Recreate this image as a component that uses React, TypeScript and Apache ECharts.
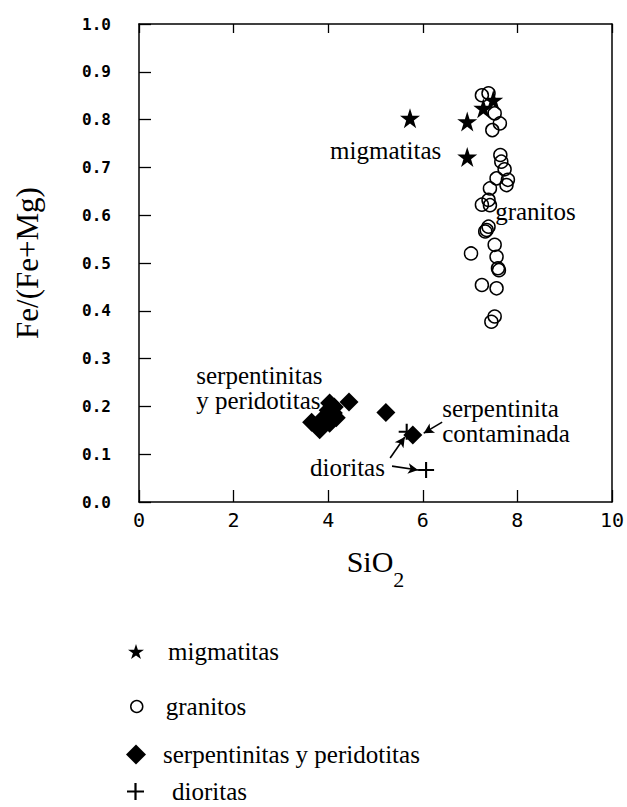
import React, { useEffect, useRef } from 'react';
import * as echarts from 'echarts';

// ---- data ----
const xRange = [0, 10];
const xStep = 2;
const yRange = [0, 1];
const yStep = 0.1;

const seriesNames = ['migmatitas', 'granitos', 'serpentinitas y peridotitas', 'dioritas'];

const migmatitas: number[][] = [
  [5.73, 0.803], [6.94, 0.796], [6.94, 0.722], [7.28, 0.824], [7.49, 0.841],
];

const granitos: number[][] = [
  [7.25, 0.851], [7.39, 0.855], [7.52, 0.813], [7.63, 0.792], [7.47, 0.778],
  [7.64, 0.726], [7.66, 0.712], [7.73, 0.696], [7.80, 0.674], [7.77, 0.663],
  [7.56, 0.677], [7.42, 0.656], [7.39, 0.632], [7.25, 0.622], [7.42, 0.621],
  [7.39, 0.576], [7.35, 0.569], [7.32, 0.566], [7.02, 0.520], [7.52, 0.538],
  [7.56, 0.513], [7.59, 0.489], [7.61, 0.485], [7.25, 0.454], [7.56, 0.447],
  [7.52, 0.388], [7.45, 0.377],
];

const serpentinitas: number[][] = [
  [3.65, 0.167], [3.82, 0.151], [4.03, 0.165], [4.11, 0.186], [4.17, 0.176],
  [4.00, 0.192], [3.92, 0.178], [4.13, 0.199], [4.03, 0.207], [4.44, 0.209],
  [5.22, 0.187], [5.79, 0.140],
];

const dioritas: number[][] = [
  [5.66, 0.147], [6.07, 0.067],
];

// annotation texts: [x, y, text, align]
const annotations: [number, number, string, string][] = [
  [6.39, 0.736, 'migmatitas', 'right'],
  [7.53, 0.607, 'granitos', 'left'],
  [1.21, 0.2395, 'serpentinitas\ny peridotitas', 'left'],
  [6.41, 0.170, 'serpentinita\ncontaminada', 'left'],
  [5.20, 0.073, 'dioritas', 'right'],
];

// arrows: [x1, y1, x2, y2]
const arrows: number[][] = [
  [5.31, 0.092, 5.62, 0.136],
  [5.35, 0.075, 5.90, 0.067],
  [6.41, 0.167, 6.02, 0.144],
];

// ---- styling ----
const SERIF = '"Liberation Serif", "Times New Roman", serif';
const MONO = '"DejaVu Sans Mono", monospace';
const STAR = 'path://M50,2 L61.2,36.2 L97.6,36.2 L68.2,57.3 L79.4,91.5 L50,70.3 L20.6,91.5 L31.8,57.3 L2.4,36.2 L38.8,36.2 Z';
const PLUS = 'path://M8.7,0 H11.3 V8.7 H20 V11.3 H11.3 V20 H8.7 V11.3 H0 V8.7 H8.7 Z';

export default function App() {
  const ref = useRef<HTMLDivElement>(null);

  useEffect(() => {
    if (!ref.current) return;
    const chart = echarts.init(ref.current, null, { renderer: 'svg' });

    const axisLine = { show: true, onZero: false, lineStyle: { color: '#000', width: 1.5 } };

    const legendBase = (name: string, top: number, left: number, size: number, pad: number, itemStyle: any) => ({
      data: [name],
      orient: 'vertical',
      left,
      top,
      padding: 0,
      itemWidth: size,
      itemHeight: size,
      selectedMode: false,
      itemStyle,
      textStyle: { fontFamily: SERIF, fontSize: 25, color: '#000', padding: [0, 0, 0, pad] },
    });

    const option: any = {
      animation: false,
      backgroundColor: '#fff',
      grid: { left: 139, top: 24, right: 6, bottom: 305, containLabel: false },
      xAxis: [
        {
          type: 'value',
          position: 'bottom',
          min: xRange[0],
          max: xRange[1],
          interval: xStep,
          axisLine,
          axisTick: { show: true, inside: true, length: 12, lineStyle: { color: '#000', width: 1.3 } },
          axisLabel: { fontFamily: MONO, fontSize: 20, color: '#000', margin: 8 },
          splitLine: { show: false },
          name: '{a|SiO}{b|2}',
          nameLocation: 'middle',
          nameGap: 44,
          nameTextStyle: {
            rich: {
              a: { fontFamily: SERIF, fontSize: 30, color: '#000', lineHeight: 30, verticalAlign: 'top' },
              b: { fontFamily: SERIF, fontSize: 22, color: '#000', lineHeight: 44, verticalAlign: 'bottom' },
            },
          },
        },
        {
          type: 'value',
          position: 'top',
          min: xRange[0],
          max: xRange[1],
          interval: xStep,
          axisLine,
          axisTick: { show: true, inside: true, length: 9, lineStyle: { color: '#000', width: 1.3 } },
          axisLabel: { show: false },
          splitLine: { show: false },
        },
      ],
      yAxis: [
        {
          type: 'value',
          position: 'left',
          min: yRange[0],
          max: yRange[1],
          interval: yStep,
          axisLine,
          axisTick: { show: true, inside: true, length: 12, lineStyle: { color: '#000', width: 1.3 } },
          axisLabel: {
            fontFamily: MONO,
            fontSize: 16,
            fontWeight: 'bold',
            color: '#000',
            margin: 28,
            formatter: (v: number) => v.toFixed(1),
          },
          splitLine: { show: false },
          name: 'Fe/(Fe+Mg)',
          nameLocation: 'middle',
          nameRotate: 90,
          nameGap: 96,
          nameTextStyle: { fontFamily: SERIF, fontSize: 31, color: '#000' },
        },
        {
          type: 'value',
          position: 'right',
          min: yRange[0],
          max: yRange[1],
          interval: yStep,
          axisLine,
          axisTick: { show: false },
          axisLabel: { show: false },
          splitLine: { show: false },
        },
      ],
      legend: [
        legendBase(seriesNames[0], 639, 128, 16, 19, { color: '#000', borderWidth: 0, opacity: 1 }),
        legendBase(seriesNames[1], 694, 130, 12, 18, { color: 'transparent', borderColor: '#000', borderWidth: 1.5, opacity: 1 }),
        legendBase(seriesNames[2], 742, 126, 20, 12, { color: '#000', borderWidth: 0, opacity: 1 }),
        legendBase(seriesNames[3], 779, 127, 17, 23, { color: '#000', borderWidth: 0, opacity: 1 }),
      ],
      series: [
        {
          name: seriesNames[0],
          type: 'scatter',
          data: migmatitas,
          symbol: STAR,
          symbolSize: 20,
          itemStyle: { color: '#000', opacity: 1 },
          z: 4,
        },
        {
          name: seriesNames[1],
          type: 'scatter',
          data: granitos,
          symbol: 'circle',
          symbolSize: 13,
          itemStyle: { color: 'transparent', borderColor: '#000', borderWidth: 1.5, opacity: 1 },
          z: 3,
        },
        {
          name: seriesNames[2],
          type: 'scatter',
          data: serpentinitas,
          symbol: 'diamond',
          symbolSize: 19,
          itemStyle: { color: '#000', opacity: 1 },
          z: 3,
        },
        {
          name: seriesNames[3],
          type: 'scatter',
          data: dioritas,
          symbol: PLUS,
          symbolSize: 16,
          itemStyle: { color: '#000', opacity: 1 },
          z: 3,
        },
        {
          name: 'annotations',
          type: 'scatter',
          silent: true,
          symbolSize: 0,
          itemStyle: { color: '#000', opacity: 1 },
          data: annotations.map(([x, y, text, align]) => ({
            value: [x, y, text],
            label: { align },
          })),
          label: {
            show: true,
            position: 'inside',
            formatter: (p: any) => p.data.value[2],
            fontFamily: SERIF,
            fontSize: 25,
            lineHeight: 25,
            color: '#000',
            opacity: 1,
            verticalAlign: 'middle',
          },
          markLine: {
            silent: true,
            symbol: ['none', 'arrow'],
            symbolSize: [8, 10],
            label: { show: false },
            lineStyle: { color: '#000', width: 1.6, type: 'solid', opacity: 1 },
            data: arrows.map(([x1, y1, x2, y2]) => [{ coord: [x1, y1] }, { coord: [x2, y2] }]),
          },
        },
      ],
    };

    chart.setOption(option);
    return () => chart.dispose();
  }, []);

  return (
    <div
      ref={ref}
      style={{ position: 'absolute', left: 0, top: 0, width: 627, height: 807, background: '#fff' }}
    />
  );
}
